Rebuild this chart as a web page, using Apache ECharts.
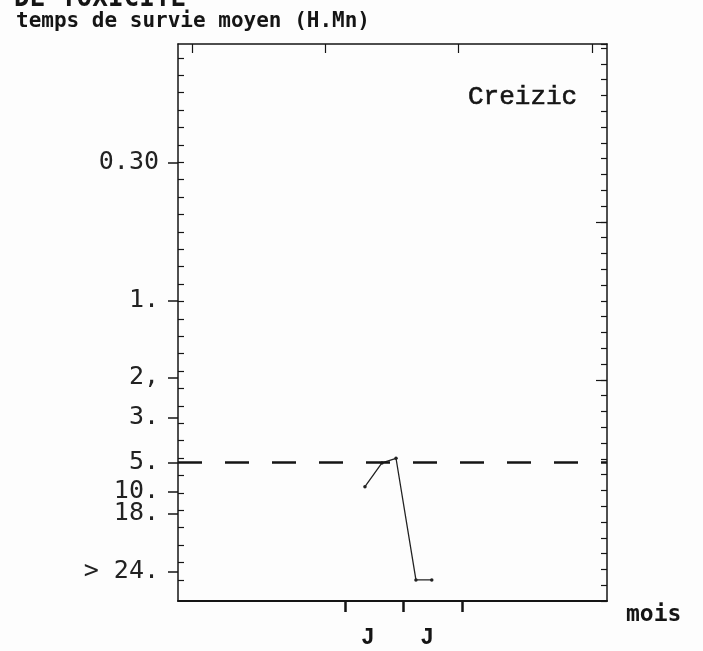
<!DOCTYPE html>
<html>
<head>
<meta charset="utf-8">
<script src="https://cdn.jsdelivr.net/npm/echarts@6/dist/echarts.min.js"></script>
<style>
  html, body { margin: 0; padding: 0; background: #fdfdfd; }
  #chart { width: 703px; height: 651px; }
</style>
</head>
<body>
<div id="chart"></div>
<script>
// x: months (6 = start of June), y: graduations of the survival-time scale
const moisX = [6.34, 6.63, 6.87, 7.21, 7.48];
const survie = [5.36, 6.72, 6.99, 0, 0];
const seuil = 6.74; // dashed "5." level

const yTickPos = [23.97, 16.05, 11.61, 9.31, 6.74, 5.07, 3.79, 0.48];
const yTickLabels = ["0.30", "1.", "2,", "3.", "5.", "10.", "18.", "> 24."];

const xTickPos = [6, 7, 8];
const xLabelPos = [6.39, 7.4];
const xLabels = ["J", "J"];
const topTickPos = [3.39, 5.67, 7.94, 10.21];
const rightMajorTicks = [14, 24];

const xMin = 3.15, xMax = 10.47;
const yMin = -1.21, yMax = 30.79;

// inward graduations on the left edge, one per unit
const leftMinorTicks = [];
for (let k = 0; k <= 30; k++) leftMinorTicks.push(k);

function nearestLabel(pos, labels, v) {
  let best = 0;
  pos.forEach((p, i) => {
    if (Math.abs(p - v) < Math.abs(pos[best] - v)) best = i;
  });
  return labels[best];
}

const chart = echarts.init(document.getElementById("chart"));

const ink = "#151515";

chart.setOption({
  animation: false,
  backgroundColor: "#fdfdfd",
  grid: {
    left: 178,
    right: 96,
    top: 44,
    bottom: 50,
    containLabel: false,
    outerBoundsMode: "none",
  },
  xAxis: [
    {
      type: "value",
      position: "bottom",
      min: xMin,
      max: xMax,
      splitLine: { show: false },
      axisLine: { show: true, onZero: false, lineStyle: { color: ink, width: 2 } },
      axisTick: {
        show: true,
        inside: false,
        length: 11,
        customValues: xTickPos,
        lineStyle: { color: ink, width: 2.5 },
      },
      axisLabel: {
        show: true,
        customValues: xLabelPos,
        formatter: (v) => nearestLabel(xLabelPos, xLabels, v),
        margin: 26,
        fontFamily: "Liberation Mono",
        fontWeight: "bold",
        fontSize: 23,
        color: ink,
      },
    },
    {
      type: "value",
      position: "top",
      min: xMin,
      max: xMax,
      splitLine: { show: false },
      axisLine: { show: true, onZero: false, lineStyle: { color: ink, width: 1.5 } },
      axisTick: {
        show: true,
        inside: true,
        length: 9,
        customValues: topTickPos,
        lineStyle: { color: ink, width: 1.2 },
      },
      axisLabel: { show: false },
    },
  ],
  yAxis: [
    {
      type: "value",
      position: "left",
      min: yMin,
      max: yMax,
      splitLine: { show: false },
      axisLine: { show: true, onZero: false, lineStyle: { color: ink, width: 1.5 } },
      axisTick: {
        show: true,
        inside: false,
        length: 10,
        customValues: yTickPos,
        lineStyle: { color: ink, width: 1.5 },
      },
      axisLabel: {
        show: true,
        customValues: yTickPos,
        formatter: (v) => nearestLabel(yTickPos, yTickLabels, v),
        margin: 19,
        fontFamily: "DejaVu Sans Mono",
        fontSize: 25,
        color: "#222",
      },
    },
    {
      type: "value",
      position: "left",
      min: yMin,
      max: yMax,
      splitLine: { show: false },
      axisLine: { show: false },
      axisTick: {
        show: true,
        inside: true,
        length: 6,
        customValues: leftMinorTicks,
        lineStyle: { color: ink, width: 1.2 },
      },
      axisLabel: { show: false },
    },
    {
      type: "value",
      position: "right",
      min: 0,
      max: 35.25,
      interval: 1,
      splitLine: { show: false },
      axisLine: { show: true, onZero: false, lineStyle: { color: ink, width: 1.5 } },
      axisTick: { show: true, inside: true, length: 6, lineStyle: { color: ink, width: 1.2 } },
      axisLabel: { show: false },
    },
    {
      type: "value",
      position: "right",
      min: 0,
      max: 35.25,
      splitLine: { show: false },
      axisLine: { show: false },
      axisTick: {
        show: true,
        inside: true,
        length: 11,
        customValues: rightMajorTicks,
        lineStyle: { color: ink, width: 1.2 },
      },
      axisLabel: { show: false },
    },
  ],
  series: [
    {
      name: "Creizic",
      type: "line",
      xAxisIndex: 0,
      yAxisIndex: 0,
      data: moisX.map((x, i) => [x, survie[i]]),
      symbol: "circle",
      symbolSize: 3.5,
      lineStyle: { color: "#222", width: 1.3 },
      itemStyle: { color: "#222" },
      markLine: {
        silent: true,
        symbol: ["none", "none"],
        label: { show: false },
        lineStyle: { color: ink, width: 2.5, type: [24, 23] },
        data: [{ yAxis: seuil }],
      },
    },
  ],
  graphic: [
    {
      type: "text",
      x: 14,
      y: 12,
      style: {
        text: "DE TOXICITE",
        font: 'bold 26px "DejaVu Sans Mono"',
        fill: ink,
        verticalAlign: "bottom",
      },
    },
    {
      type: "text",
      x: 16,
      y: 32,
      style: {
        text: "temps de survie moyen (H.Mn)",
        font: 'bold 21px "DejaVu Sans Mono"',
        fill: ink,
        verticalAlign: "bottom",
      },
    },
    {
      type: "text",
      x: 468,
      y: 110,
      style: {
        text: "Creizic",
        font: '26px "Liberation Mono"',
        fill: ink,
        stroke: ink,
        lineWidth: 0.6,
        verticalAlign: "bottom",
      },
    },
    {
      type: "text",
      x: 626,
      y: 627,
      style: {
        text: "mois",
        font: 'bold 23px "DejaVu Sans Mono"',
        fill: ink,
        verticalAlign: "bottom",
      },
    },
  ],
});

window.addEventListener("resize", () => chart.resize());
</script>
</body>
</html>
